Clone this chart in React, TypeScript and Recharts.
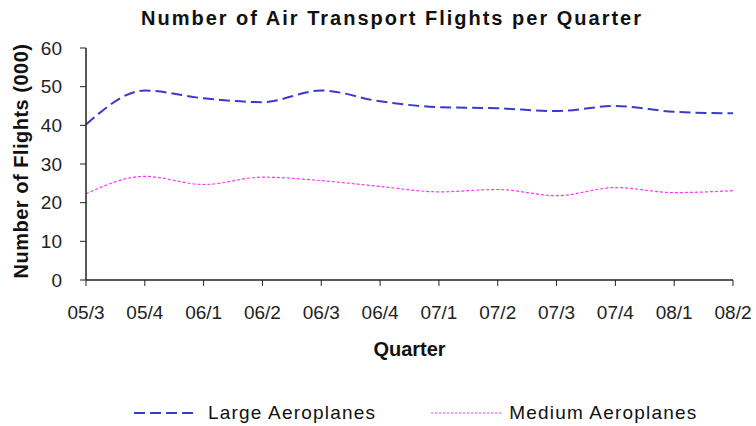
import React from "react";
import { LineChart, Line, XAxis, YAxis, Legend } from "recharts";

const quarters = ["05/3", "05/4", "06/1", "06/2", "06/3", "06/4", "07/1", "07/2", "07/3", "07/4", "08/1", "08/2"];
const largeAeroplanes = [40.2, 49.0, 47.0, 46.0, 49.0, 46.2, 44.7, 44.4, 43.7, 45.0, 43.5, 43.1];
const mediumAeroplanes = [22.3, 26.8, 24.7, 26.6, 25.7, 24.2, 22.8, 23.4, 21.8, 23.9, 22.6, 23.1];
const yTicks = [0, 10, 20, 30, 40, 50, 60];

const data = quarters.map((q, i) => ({
  quarter: q,
  large: largeAeroplanes[i],
  medium: mediumAeroplanes[i],
}));

const FONT = "'Liberation Sans', Arial, sans-serif";
const LARGE_COLOR = "#3a3acc";
const MEDIUM_COLOR = "#ff33ff";

const LegendContent = () => (
  <div
    style={{
      height: 66,
      boxSizing: "border-box",
      paddingTop: 40,
      display: "flex",
      justifyContent: "flex-start",
      fontFamily: FONT,
      fontSize: 19,
      letterSpacing: 1.2,
      color: "#111",
      lineHeight: "20px",
    }}
  >
    <div style={{ display: "flex", alignItems: "center", marginLeft: 134 }}>
      <svg width={61} height={10}>
        <line x1={0} y1={5} x2={61} y2={5} stroke={LARGE_COLOR} strokeWidth={2} strokeDasharray="11 5" />
      </svg>
      <span style={{ marginLeft: 13 }}>Large Aeroplanes</span>
    </div>
    <div style={{ display: "flex", alignItems: "center", marginLeft: 55 }}>
      <svg width={72} height={10}>
        <line x1={0} y1={5} x2={72} y2={5} stroke={MEDIUM_COLOR} strokeWidth={1.2} strokeDasharray="2.5 1.5" />
      </svg>
      <span style={{ marginLeft: 6 }}>Medium Aeroplanes</span>
    </div>
  </div>
);

export default function App() {
  return (
    <div style={{ position: "absolute", left: 0, top: 0, width: 756, height: 426, background: "#fff" }}>
      <div
        style={{
          position: "absolute",
          left: 0,
          width: 784,
          top: 7,
          textAlign: "center",
          fontFamily: FONT,
          fontWeight: "bold",
          fontSize: 20,
          letterSpacing: 2,
          color: "#111",
          zIndex: 2,
          whiteSpace: "nowrap",
        }}
      >
        Number of Air Transport Flights per Quarter
      </div>
      <div
        style={{
          position: "absolute",
          left: 21,
          top: 161,
          transform: "translate(-50%, -50%) rotate(-90deg)",
          fontFamily: FONT,
          fontWeight: "bold",
          fontSize: 20,
          letterSpacing: 0.5,
          color: "#111",
          whiteSpace: "nowrap",
          zIndex: 2,
        }}
      >
        Number of Flights (000)
      </div>
      <LineChart
        width={756}
        height={426}
        data={data}
        margin={{ top: 48, right: 23, left: 0, bottom: 0 }}
      >
        <XAxis
          dataKey="quarter"
          xAxisId="bottom"
          interval={0}
          padding={{ left: 0, right: 0 }}
          axisLine={{ stroke: "#222", strokeWidth: 1.5 }}
          tickLine={{ stroke: "#222" }}
          tickSize={6}
          tickMargin={20}
          tick={{ fill: "#222", fontSize: 19, fontFamily: FONT }}
          height={80}
          label={{ value: "Quarter", position: "insideBottom", offset: 4, fill: "#111", fontSize: 20, fontWeight: "bold", fontFamily: FONT }}
        />
        <XAxis dataKey="quarter" xAxisId="top" orientation="top" tick={false} tickLine={false} axisLine={{ stroke: "#222", strokeWidth: 1.5 }} height={0} />
        <YAxis
          yAxisId="left"
          domain={[0, 60]}
          ticks={yTicks}
          interval={0}
          width={86}
          axisLine={{ stroke: "#222", strokeWidth: 1.5 }}
          tickLine={{ stroke: "#222" }}
          tickSize={6}
          tickMargin={18}
          tick={{ fill: "#222", fontSize: 19, fontFamily: FONT }}
        />
        <YAxis yAxisId="right" orientation="right" domain={[0, 60]} tick={false} tickLine={false} axisLine={{ stroke: "#222", strokeWidth: 1.5 }} width={0} />
        <Legend verticalAlign="bottom" content={<LegendContent />} wrapperStyle={{ left: 0, width: 756 }} />
        <Line
          xAxisId="bottom"
          yAxisId="left"
          type="monotone"
          dataKey="large"
          name="Large Aeroplanes"
          stroke={LARGE_COLOR}
          strokeWidth={2}
          strokeDasharray="11 5"
          dot={false}
          isAnimationActive={false}
        />
        <Line
          xAxisId="bottom"
          yAxisId="left"
          type="monotone"
          dataKey="medium"
          name="Medium Aeroplanes"
          stroke={MEDIUM_COLOR}
          strokeWidth={1.2}
          strokeDasharray="3 2"
          dot={false}
          isAnimationActive={false}
        />
      </LineChart>
    </div>
  );
}
